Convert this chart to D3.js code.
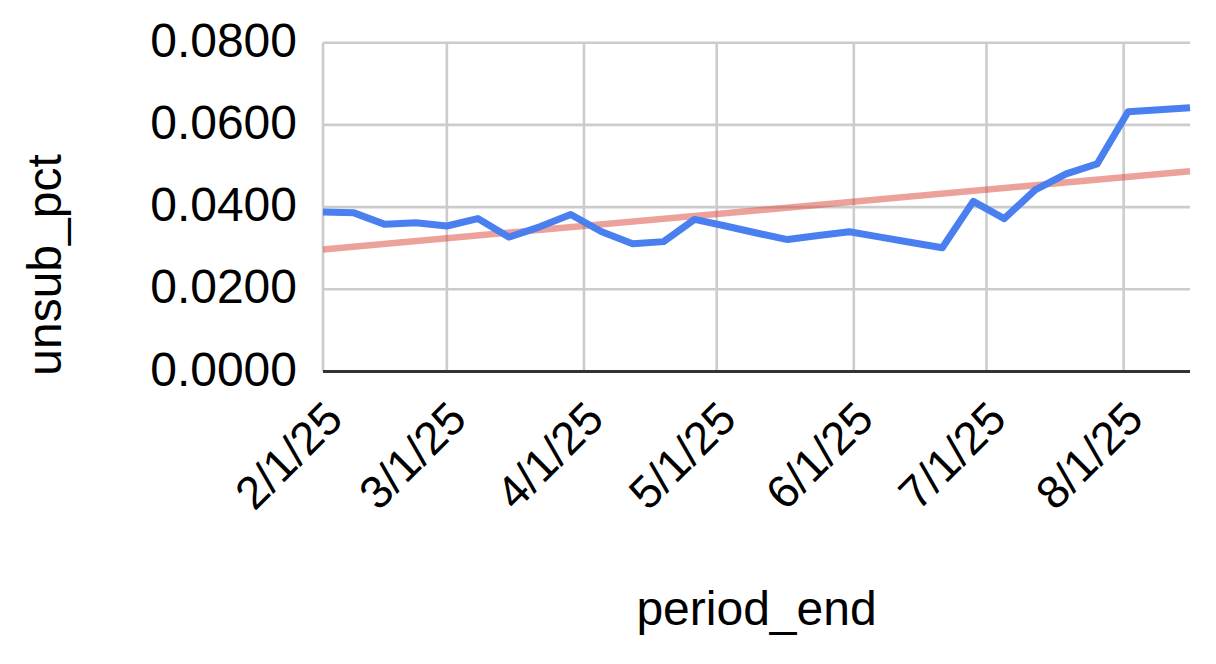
<!DOCTYPE html>
<html>
<head>
<meta charset="utf-8">
<script src="https://cdn.jsdelivr.net/npm/d3@7"></script>
<style>
  html, body { margin: 0; padding: 0; background: #fff; }
  svg { display: block; }
  text { font-family: Arial, "Liberation Sans", sans-serif; fill: #000; }
</style>
</head>
<body>
<svg id="chart" width="1216" height="664"></svg>
<script>
// ---- data ----
const periodEnd = ["2025-02-01","2025-02-08","2025-02-15","2025-02-22","2025-03-01","2025-03-08","2025-03-15","2025-03-22","2025-03-29","2025-04-05","2025-04-12","2025-04-19","2025-04-26","2025-05-03","2025-05-10","2025-05-17","2025-05-24","2025-05-31","2025-06-07","2025-06-14","2025-06-21","2025-06-28","2025-07-05","2025-07-12","2025-07-19","2025-07-26","2025-08-02","2025-08-09","2025-08-16"];
const unsubPct = [0.0388,0.0386,0.0358,0.0362,0.0354,0.0372,0.0327,0.0352,0.0382,0.0340,0.0311,0.0316,0.0370,0.0354,0.0337,0.0321,0.0331,0.0340,0.0327,0.0314,0.0301,0.0414,0.0372,0.0442,0.0481,0.0505,0.0632,0.0637,0.0642];
const yTicks = [0, 0.02, 0.04, 0.06, 0.08];
const xTickDates = ["2025-02-01","2025-03-01","2025-04-01","2025-05-01","2025-06-01","2025-07-01","2025-08-01"];
const xTitle = "period_end";
const yTitle = "unsub_pct";

// ---- layout ----
(function () {
const svg = d3.select("#chart");
const parse = d3.utcParse("%Y-%m-%d");
const fmtX = d3.utcFormat("%-m/%-d/%y");
const data = periodEnd.map((d, i) => ({ date: parse(d), value: unsubPct[i] }));

const pL = 323, pR = 1190, pT = 42.7, pB = 371.5;
const x = d3.scaleUtc().domain(d3.extent(data, d => d.date)).range([pL, pR]);
const y = d3.scaleLinear().domain([0, 0.08]).range([pB, pT]);

// horizontal gridlines
svg.append("g").selectAll("line").data(yTicks.filter(t => t > 0)).join("line")
  .attr("x1", pL).attr("x2", pR)
  .attr("y1", d => y(d)).attr("y2", d => y(d))
  .attr("stroke", "#cccccc").attr("stroke-width", 2.6);

// vertical gridlines
svg.append("g").selectAll("line").data(xTickDates.map(parse)).join("line")
  .attr("x1", d => x(d)).attr("x2", d => x(d))
  .attr("y1", pT).attr("y2", pB)
  .attr("stroke", "#cccccc").attr("stroke-width", 2.6);

// y tick labels
svg.append("g").selectAll("text").data(yTicks).join("text")
  .attr("x", 297).attr("y", d => y(d) + 14)
  .attr("text-anchor", "end")
  .style("font-size", "48px")
  .text(d => d3.format(".4f")(d));

// x tick labels
svg.append("g").selectAll("text").data(xTickDates.map(parse)).join("text")
  .attr("text-anchor", "end")
  .attr("transform", d => `translate(${x(d) + 22},${pB + 50}) rotate(-45)`)
  .style("font-size", "46px")
  .text(d => fmtX(d));

// trendline (least squares fit of the series)
const xs = data.map(d => +d.date), vs = data.map(d => d.value);
const mx = d3.mean(xs), mv = d3.mean(vs);
const slope = d3.sum(xs, (xi, i) => (xi - mx) * (vs[i] - mv)) / d3.sum(xs, xi => (xi - mx) ** 2);
const icpt = mv - slope * mx;
const ends = d3.extent(data, d => d.date);
svg.append("line")
  .attr("x1", x(ends[0])).attr("x2", x(ends[1]))
  .attr("y1", y(icpt + slope * +ends[0])).attr("y2", y(icpt + slope * +ends[1]))
  .attr("stroke", "#db4437").attr("stroke-opacity", 0.5).attr("stroke-width", 6.5);

// series line
svg.append("path").datum(data)
  .attr("fill", "none").attr("stroke", "#4a7ff0").attr("stroke-width", 7)
  .attr("stroke-linejoin", "round")
  .attr("d", d3.line().x(d => x(d.date)).y(d => y(d.value)));

// baseline
svg.append("line").attr("x1", pL).attr("x2", pR)
  .attr("y1", pB).attr("y2", pB)
  .attr("stroke", "#333333").attr("stroke-width", 3);

// axis titles
svg.append("text").attr("x", (pL + pR) / 2).attr("y", 625)
  .attr("text-anchor", "middle").style("font-size", "48px").text(xTitle);
svg.append("text").attr("transform", `translate(61,265) rotate(-90)`)
  .attr("text-anchor", "middle").style("font-size", "48px").text(yTitle);
})();
</script>
</body>
</html>
